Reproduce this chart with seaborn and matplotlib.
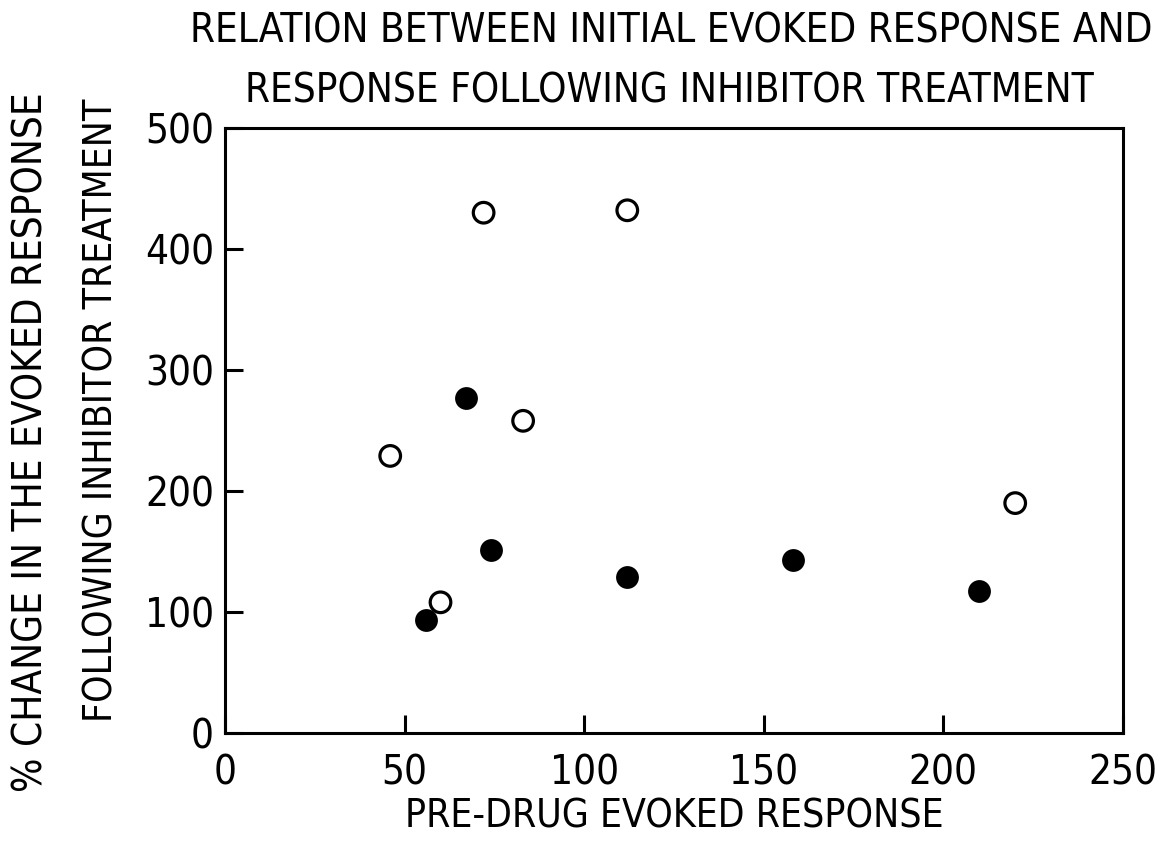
import matplotlib
matplotlib.use('Agg')
import matplotlib.pyplot as plt
import seaborn as sns
import pandas as pd

# values
open_x = [46, 60, 72, 83, 112, 220]
open_y = [229, 108, 430, 258, 432, 190]
filled_x = [56, 67, 74, 112, 158, 210]
filled_y = [93, 277, 151, 129, 143, 117]

X_TICKS = [0, 50, 100, 150, 200, 250]
Y_TICKS = [0, 100, 200, 300, 400, 500]

TITLE_1 = 'RELATION BETWEEN INITIAL EVOKED RESPONSE AND'
TITLE_2 = 'RESPONSE FOLLOWING INHIBITOR TREATMENT'
YLAB_1 = '% CHANGE IN THE EVOKED RESPONSE'
YLAB_2 = 'FOLLOWING INHIBITOR TREATMENT'
XLAB = 'PRE-DRUG EVOKED RESPONSE'


def main():
    sns.set_style('ticks')
    plt.rcParams['font.family'] = ['DejaVu Sans']
    plt.rcParams['font.stretch'] = 'condensed'
    plt.rcParams['text.color'] = 'black'
    plt.rcParams['axes.labelcolor'] = 'black'

    df_open = pd.DataFrame({'x': open_x, 'y': open_y})
    df_filled = pd.DataFrame({'x': filled_x, 'y': filled_y})

    fig = plt.figure(figsize=(11.7, 8.58), dpi=100)
    ax = fig.add_axes([0.1923, 0.1457, 0.7675, 0.7051])

    sns.scatterplot(x='x', y='y', data=df_open, ax=ax, marker='o', s=220,
                    facecolor='none', edgecolor='black', linewidth=2.3)
    sns.scatterplot(x='x', y='y', data=df_filled, ax=ax, marker='o', s=270,
                    color='black', edgecolor='black', linewidth=0)

    ax.set_xlim(0, 250)
    ax.set_ylim(0, 500)
    ax.set_xticks(X_TICKS)
    ax.set_yticks(Y_TICKS)
    ax.set_xticklabels([str(t) for t in X_TICKS])
    ax.set_yticklabels([str(t) for t in Y_TICKS])
    ax.tick_params(direction='in', length=13, width=2.2, labelsize=29,
                   top=False, right=False, colors='black')
    ax.tick_params(axis='x', pad=15)
    ax.tick_params(axis='y', pad=8)
    for sp in ax.spines.values():
        sp.set_linewidth(2.2)
        sp.set_color('black')

    ax.set_xlabel(XLAB, fontsize=28)
    ax.xaxis.set_label_coords(0.5, -0.106)
    ax.set_ylabel('')

    fig.text(0.574, 0.963, TITLE_1, fontsize=29, ha='center', va='center')
    fig.text(0.572, 0.893, TITLE_2, fontsize=29, ha='center', va='center')
    fig.text(0.027, 0.485, YLAB_1, fontsize=29, rotation=90,
             ha='center', va='center')
    fig.text(0.087, 0.522, YLAB_2, fontsize=28, rotation=90,
             ha='center', va='center')

    fig.savefig('out.png', dpi=100, facecolor='white')


if __name__ == '__main__':
    main()
